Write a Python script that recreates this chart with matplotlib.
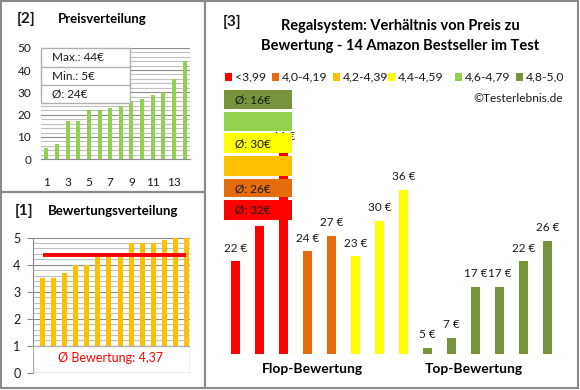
import matplotlib
matplotlib.use("Agg")
import matplotlib.pyplot as plt
from matplotlib.patches import Rectangle
import numpy as np

# ---------------- data ----------------
prices_sorted = [5, 7, 17, 17, 22, 22, 23, 24, 26, 27, 29, 30, 36, 44]
ratings_sorted = [3.5, 3.5, 3.7, 4.0, 4.0, 4.4, 4.4, 4.4, 4.8, 4.8, 4.8, 4.9, 5.0, 5.0]
rating_avg = 4.37
price_stats = ["Max.: 44€", "Min.: 5€", "Ø: 24€"]

# panel 3: products ordered flop -> top
p3_prices = [22, 29, 44, 24, 27, 23, 30, 36, 5, 7, 17, 17, 22, 26]
p3_class = [0, 0, 0, 1, 1, 3, 3, 3, 5, 5, 5, 5, 5, 5]
p3_label_hidden = [1]  # label fully covered by the average boxes in the reference
class_labels = ["<3,99", "4,0-4,19", "4,2-4,39", "4,4-4,59", "4,6-4,79", "4,8-5,0"]
class_colors = ["#FF0000", "#E46C0A", "#FFC000", "#FFFF00", "#92D050", "#77933C"]
class_avg = ["Ø: 32€", "Ø: 26€", "", "Ø: 30€", "", "Ø: 16€"]
group_labels = ["Flop-Bewertung", "Top-Bewertung"]

W, H = 580, 390
FONT = ["Lato", "DejaVu Sans"]
plt.rcParams["font.family"] = FONT
TXT = "#1a1a1a"
GRID_MAJ = "#8c8c8c"
GRID_MIN = "#c0c0c0"
BORDER = "#8a8a8a"

fig = plt.figure(figsize=(W / 100, H / 100), dpi=100)


def px_axes(x0, y0, x1, y1):
    return fig.add_axes([x0 / W, 1 - y1 / H, (x1 - x0) / W, (y1 - y0) / H])


def ftext(x, y, s, **kw):
    return fig.text(x / W, 1 - y / H, s, **kw)


def frect(x0, y0, x1, y1, **kw):
    r = Rectangle((x0 / W, 1 - y1 / H), (x1 - x0) / W, (y1 - y0) / H,
                  transform=fig.transFigure, **kw)
    fig.patches.append(r)
    return r


# panel borders
frect(1, 1, 205, 192, fill=False, edgecolor=BORDER, lw=1.5, zorder=10)
frect(1, 192, 205, 388, fill=False, edgecolor=BORDER, lw=1.5, zorder=10)
frect(205, 1, 578, 388, fill=False, edgecolor=BORDER, lw=1.5, zorder=10)

# ---------------- panel [2] Preisverteilung ----------------
ax2 = px_axes(41, 47.7, 190, 159.3)
x = np.arange(1, len(prices_sorted) + 1)
ax2.bar(x, prices_sorted, width=0.38, color="#92D050", zorder=3)
ax2.set_xlim(0.5, 14.5)
ax2.set_ylim(0, 50)
ax2.set_yticks(np.arange(0, 51, 10))
ax2.set_yticks(np.arange(0, 51, 2), minor=True)
ax2.grid(axis="y", which="minor", color=GRID_MIN, lw=0.8, zorder=0)
ax2.grid(axis="y", which="major", color=GRID_MAJ, lw=0.8, zorder=1)
ax2.set_xticks([1, 3, 5, 7, 9, 11, 13])
ax2.tick_params(axis="x", length=0, pad=13, labelsize=8.5, labelcolor=TXT)
ax2.tick_params(axis="y", which="both", length=0, pad=7, labelsize=8.5, labelcolor=TXT)
ax2.tick_params(axis="y", which="minor", labelleft=False)
for s in ["top", "right", "left"]:
    ax2.spines[s].set_visible(False)
ax2.spines["bottom"].set_color(GRID_MAJ)

# stats box
frect(41, 47.7, 130, 103, facecolor="white", edgecolor="#b0b0b0", lw=1, zorder=5)
for yy in [66.5, 85]:
    fig.add_artist(plt.Line2D([41 / W, 130 / W], [1 - yy / H, 1 - yy / H],
                              color="#b0b0b0", lw=1, zorder=6))
for i, s in enumerate(price_stats):
    ftext(52, 57.5 + i * 18.5, s, fontsize=8.5, color=TXT, va="center", ha="left", zorder=7)

ftext(17, 19, "[2]", fontsize=11, fontweight="bold", color=TXT, va="center", ha="left")
ftext(58, 19, "Preisverteilung", fontsize=9.5, fontweight="bold", color="black",
      va="center", ha="left")

# ---------------- panel [1] Bewertungsverteilung ----------------
ax1 = px_axes(33, 237.7, 190, 372.7)
x1 = np.arange(1, len(ratings_sorted) + 1)
ax1.bar(x1 + 0.17, ratings_sorted, width=0.45, color="#FFC000", zorder=3)
ax1.set_xlim(0.3, 14.5)
ax1.set_ylim(0, 5)
ax1.set_yticks(np.arange(0, 6, 1))
ax1.set_yticks(np.arange(0, 5.01, 0.2), minor=True)
ax1.grid(axis="y", which="minor", color=GRID_MIN, lw=0.8, zorder=0)
ax1.grid(axis="y", which="major", color=GRID_MAJ, lw=0.8, zorder=1)
ax1.set_xticks([])
ax1.tick_params(axis="y", which="major", length=4, color=GRID_MAJ, pad=5,
                labelsize=9, labelcolor=TXT)
ax1.tick_params(axis="y", which="minor", length=0)
for s in ["top", "right", "bottom"]:
    ax1.spines[s].set_visible(False)
ax1.spines["left"].set_color(GRID_MAJ)
ax1.plot([1.17, 14.17], [rating_avg, rating_avg], color="#FF0000", lw=2.8, zorder=4,
         solid_capstyle="butt")
# average box
ax1.add_patch(Rectangle((0.3, 0), 14.2, 1, facecolor="white", edgecolor="#b0b0b0",
                        lw=1, zorder=5))
avg_str = "Ø Bewertung: " + f"{rating_avg:.2f}".replace(".", ",")
ftext(111, 358, avg_str, fontsize=9, color="#FF0000", va="center", ha="center", zorder=7)

ftext(15, 211, "[1]", fontsize=11, fontweight="bold", color=TXT, va="center", ha="left")
ftext(48, 211, "Bewertungsverteilung", fontsize=9.5, fontweight="bold", color="black",
      va="center", ha="left")

# ---------------- panel [3] ----------------
ftext(223, 22, "[3]", fontsize=11, fontweight="bold", color=TXT, va="center", ha="left")
ftext(400, 26, "Regalsystem: Verhältnis von Preis zu", fontsize=10.5, fontweight="bold",
      color="black", va="center", ha="center")
ftext(400, 46, "Bewertung - 14 Amazon Bestseller im Test", fontsize=10.5, fontweight="bold",
      color="black", va="center", ha="center")

# legend
leg_sq = [225, 272, 333, 388, 455, 516]
for sx, lab, col in zip(leg_sq, class_labels, class_colors):
    frect(sx, 73.5, sx + 7, 80.5, facecolor=col, edgecolor="none", zorder=5)
    ftext(sx + 9.5, 77, lab, fontsize=8.8, color=TXT, va="center", ha="left")
ftext(563, 99, "©Testerlebnis.de", fontsize=8.6, color=TXT, va="center", ha="right")

ymin3, scale3 = 3.85, 5.1
ax3 = px_axes(223.5, 90, 559.5, 354)
x3 = np.arange(len(p3_prices))
cols3 = [class_colors[c] for c in p3_class]
ax3.bar(x3, p3_prices, width=0.375, color=cols3, zorder=3, bottom=0)
ax3.set_xlim(-0.5, len(p3_prices) - 0.5)
ax3.set_ylim(ymin3, ymin3 + 264 / scale3)
ax3.axis("off")
for xi, v in zip(x3, p3_prices):
    if xi in p3_label_hidden:
        continue
    ax3.annotate(f"{v} €", (xi, v), xytext=(0, 9.5), textcoords="offset points",
                 ha="center", va="center", fontsize=8.5, color=TXT, zorder=4)

# average boxes (top to bottom: olive, light green, yellow, gold, orange, red)
box_rows = [(90, 109), (112, 131), (133, 153), (156, 176), (179, 197), (200, 220)]
for (y0, y1), ci in zip(box_rows, [5, 4, 3, 2, 1, 0]):
    frect(224, y0, 292, y1, facecolor=class_colors[ci], edgecolor="none", zorder=8)
    if class_avg[ci]:
        ftext(235, (y0 + y1) / 2 + 0.5, class_avg[ci], fontsize=8.5, color=TXT,
              va="center", ha="left", zorder=9)

ftext(312, 369, group_labels[0], fontsize=10, fontweight="bold", color="black",
      va="center", ha="center")
ftext(474, 369, group_labels[1], fontsize=10, fontweight="bold", color="black",
      va="center", ha="center")

fig.savefig("out.png", dpi=100, facecolor="white")
